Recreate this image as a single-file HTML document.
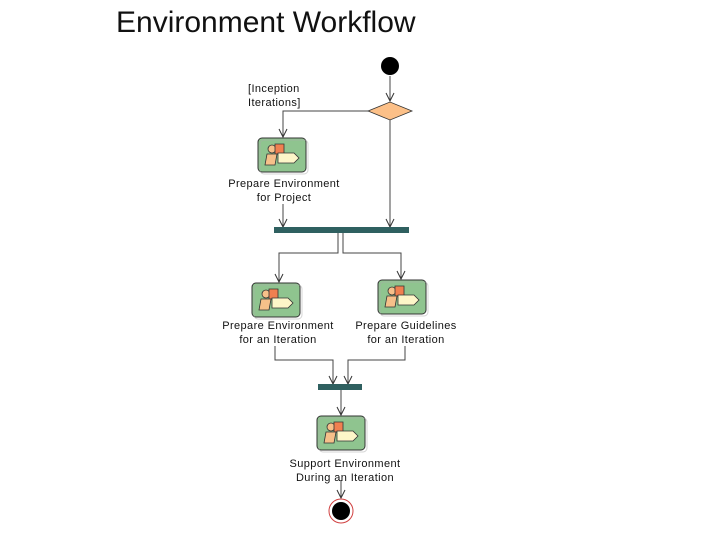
<!DOCTYPE html>
<html><head><style>
body{margin:0;background:#fff;width:720px;height:540px;overflow:hidden;position:relative;font-family:"Liberation Sans",sans-serif}
.t{position:absolute;left:116px;top:6px;font-size:30px;color:#111}
</style></head><body>
<div class="t">Environment Workflow</div>
<svg width="720" height="540" style="position:absolute;left:0;top:0" font-family="Liberation Sans, sans-serif" font-size="11" fill="#111" letter-spacing="0.4">
<defs>
<marker id="a" markerWidth="10" markerHeight="10" refX="9" refY="5" orient="auto" markerUnits="userSpaceOnUse">
<path d="M1,1 L9,5 L1,9" fill="none" stroke="#333" stroke-width="1"/></marker>
<g id="ic">
<rect x="0" y="0" width="48" height="34" rx="4" fill="#8fc48f" stroke="#333" stroke-width="1"/>
<rect x="2" y="2" width="48" height="34" rx="4" fill="none" stroke="#aaa" stroke-width="1" opacity="0.5"/>
<circle cx="14" cy="11" r="4" fill="#f6c08a" stroke="#333" stroke-width="0.8"/>
<path d="M17,6 h9 v10 h-9z" fill="#f08050" stroke="#333" stroke-width="0.8"/>
<path d="M9,16 h10 l-2,11 h-10z" fill="#f6c08a" stroke="#333" stroke-width="0.8"/>
<path d="M20,15 h16 l5,5 l-5,5 h-16z" fill="#fdf6c8" stroke="#333" stroke-width="0.8"/>
</g></defs>
<g stroke="#444" stroke-width="1" fill="none">
<path d="M390,76 V101" marker-end="url(#a)"/>
<path d="M368,111 H283 V137" marker-end="url(#a)"/>
<path d="M390,120 V227" marker-end="url(#a)"/>
<path d="M283,204 V227" marker-end="url(#a)"/>
<path d="M338,233 V253 H279 V282" marker-end="url(#a)"/>
<path d="M343,233 V253 H401 V279" marker-end="url(#a)"/>
<path d="M275,346 V360 H333 V384" marker-end="url(#a)"/>
<path d="M405,346 V360 H348 V384" marker-end="url(#a)"/>
<path d="M341,390 V415" marker-end="url(#a)"/>
<path d="M341,480 V498" marker-end="url(#a)"/>
</g>
<circle cx="390" cy="66" r="9" fill="#000"/>
<path d="M368,111 L390,102 L412,111 L390,120Z" fill="#fcc088" stroke="#333" stroke-width="0.8"/>
<text x="248" y="92">[Inception</text>
<text x="248" y="106">Iterations]</text>
<use href="#ic" x="258" y="138"/>
<text x="284" y="187" text-anchor="middle">Prepare Environment</text>
<text x="284" y="201" text-anchor="middle">for Project</text>
<rect x="274" y="227" width="135" height="6" fill="#2f6060"/>
<use href="#ic" x="252" y="283"/>
<use href="#ic" x="378" y="280"/>
<text x="278" y="329" text-anchor="middle">Prepare Environment</text>
<text x="278" y="343" text-anchor="middle">for an Iteration</text>
<text x="406" y="329" text-anchor="middle">Prepare Guidelines</text>
<text x="406" y="343" text-anchor="middle">for an Iteration</text>
<rect x="318" y="384" width="44" height="6" fill="#2f6060"/>
<use href="#ic" x="317" y="416"/>
<text x="345" y="467" text-anchor="middle">Support Environment</text>
<text x="345" y="481" text-anchor="middle">During an Iteration</text>
<circle cx="341" cy="511" r="12" fill="#fff" stroke="#d04040" stroke-width="1"/>
<circle cx="341" cy="511" r="9" fill="#000"/>
</svg>
</body></html>
